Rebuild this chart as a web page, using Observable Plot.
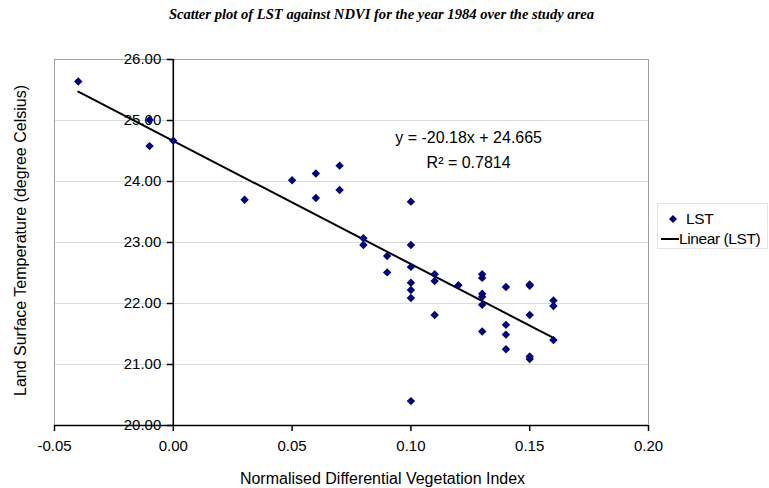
<!DOCTYPE html>
<html><head><meta charset="utf-8">
<script src="https://cdn.jsdelivr.net/npm/d3@7"></script>
<script src="https://cdn.jsdelivr.net/npm/@observablehq/plot@0.6"></script>
<style>
body{margin:0;background:#fff;}
#wrap{position:relative;width:769px;height:488px;overflow:hidden;background:#fff;}
#title{position:absolute;top:6px;left:-3px;width:769px;text-align:center;font:italic bold 14.6px "Liberation Serif";color:#000;z-index:2;}
#chart{position:absolute;top:0;left:0;z-index:1;}
#legend{position:absolute;left:657px;top:203px;width:111px;height:46px;border:1px solid #e4e4e4;box-sizing:border-box;font:15.5px "Liberation Sans";letter-spacing:-0.4px;color:#000;z-index:2;background:#fff;}
#legend .row{position:absolute;left:0;height:18px;line-height:18px;white-space:nowrap;}
</style></head>
<body><div id="wrap">
<div id="chart"></div>
<div id="title"></div>
<div id="legend"></div>
</div>
<script>
const titleText = "Scatter plot of LST against NDVI for the year 1984 over the study area";
const xLabel = "Normalised Differential Vegetation Index";
const yLabel = "Land Surface Temperature (degree Celsius)";
const seriesName = "LST";
const trendName = "Linear (LST)";
const equationLines = ["y = -20.18x + 24.665", "R\u00B2 = 0.7814"];
const trendCoef = [-20.18, 24.665]; // slope, intercept

const ndvi = [-0.04, -0.01, -0.01, 0.00, 0.03, 0.05, 0.06, 0.06, 0.07, 0.07,
  0.08, 0.08, 0.09, 0.09,
  0.10, 0.10, 0.10, 0.10, 0.10, 0.10, 0.10,
  0.11, 0.11, 0.11, 0.12,
  0.13, 0.13, 0.13, 0.13, 0.13, 0.13,
  0.14, 0.14, 0.14, 0.14,
  0.15, 0.15, 0.15, 0.15, 0.15,
  0.16, 0.16, 0.16];
const lst = [25.64, 25.01, 24.58, 24.67, 23.70, 24.02, 24.13, 23.73, 24.26, 23.86,
  23.07, 22.96, 22.78, 22.51,
  23.67, 22.96, 22.60, 22.34, 22.22, 22.09, 20.40,
  22.48, 22.37, 21.81, 22.30,
  22.48, 22.42, 22.16, 22.11, 21.98, 21.54,
  22.27, 21.65, 21.49, 21.25,
  22.31, 22.29, 21.81, 21.13, 21.09,
  22.05, 21.96, 21.40];
const xTicks = [-0.05, 0.00, 0.05, 0.10, 0.15, 0.20];
const yTicks = [20, 21, 22, 23, 24, 25, 26];

document.getElementById("title").textContent = titleText;

const points = ndvi.map((x, i) => ({x, y: lst[i]}));
const [xmin, xmax] = d3.extent(ndvi);
const trend = [xmin, xmax].map(x => ({x, y: trendCoef[0] * x + trendCoef[1]}));

const W = 769, H = 488, mL = 54, mR = 121, mT = 59, mB = 63;
const xDom = [xTicks[0], xTicks[xTicks.length - 1]];
const yDom = [yTicks[0], yTicks[yTicks.length - 1]];
const yAxisShift = (0 - xDom[0]) / (xDom[1] - xDom[0]) * (W - mL - mR);
const fmt = d => d.toFixed(2);

const chart = Plot.plot({
  width: W, height: H,
  marginLeft: mL, marginRight: mR, marginTop: mT, marginBottom: mB,
  style: {fontFamily: "Liberation Sans", fontSize: "15px", background: "transparent", overflow: "visible"},
  x: {domain: xDom},
  y: {domain: yDom},
  marks: [
    Plot.gridY(yTicks.slice(1, -1), {stroke: "#dcdcdc", strokeOpacity: 1}),
    Plot.frame({stroke: "#a0a0a0"}),
    Plot.ruleX([0], {y1: yDom[0], y2: yDom[1], stroke: "#000", strokeWidth: 1.6}),
    Plot.ruleY([yDom[0]], {stroke: "#000", strokeWidth: 1.6}),
    Plot.axisX(xTicks, {tickFormat: fmt, tickSize: 6, tickPadding: 9, stroke: "#000", strokeWidth: 1.5, label: null, style: {letterSpacing: "-0.6px"}}),
    Plot.axisY(yTicks, {anchor: "left", dx: yAxisShift, tickFormat: fmt, tickSize: 6, tickPadding: 6, stroke: "#000", strokeWidth: 1.5, label: null, style: {letterSpacing: "-0.6px"}}),
    Plot.line(trend, {x: "x", y: "y", stroke: "#000", strokeWidth: 2}),
    Plot.dot(points, {x: "x", y: "y", symbol: "diamond2", r: 3.8, fill: "#000080", stroke: "none"}),
    Plot.text([equationLines[0]], {x: 0.1243, y: 24.72, fontSize: 16, fill: "#000", textAnchor: "middle", lineAnchor: "middle", style: {letterSpacing: "-0.4px"}}),
    Plot.text([equationLines[1]], {x: 0.1243, y: 24.30, fontSize: 16, fill: "#000", textAnchor: "middle", lineAnchor: "middle", style: {letterSpacing: "-0.4px"}}),
    Plot.text([xLabel], {frameAnchor: "bottom", dx: 31, dy: 53, fontSize: 16, fill: "#000", textAnchor: "middle", lineAnchor: "middle"}),
    Plot.text([yLabel], {frameAnchor: "left", dx: -34, dy: -2, rotate: -90, fontSize: 16, fill: "#000", textAnchor: "middle", lineAnchor: "middle"})
  ]
});
document.getElementById("chart").appendChild(chart);

const legend = document.getElementById("legend");
legend.innerHTML = `
<div class="row" style="top:6px;left:9px;"><svg width="12" height="18" style="vertical-align:top"><path d="M6,5 L10,9 L6,13 L2,9 Z" fill="#000080"/></svg><span style="margin-left:7px">${seriesName}</span></div>
<div class="row" style="top:26px;left:2px;"><svg width="19" height="18" style="vertical-align:top"><line x1="1" y1="9" x2="19" y2="9" stroke="#000" stroke-width="2"/></svg><span>${trendName}</span></div>`;
</script>
</body></html>
